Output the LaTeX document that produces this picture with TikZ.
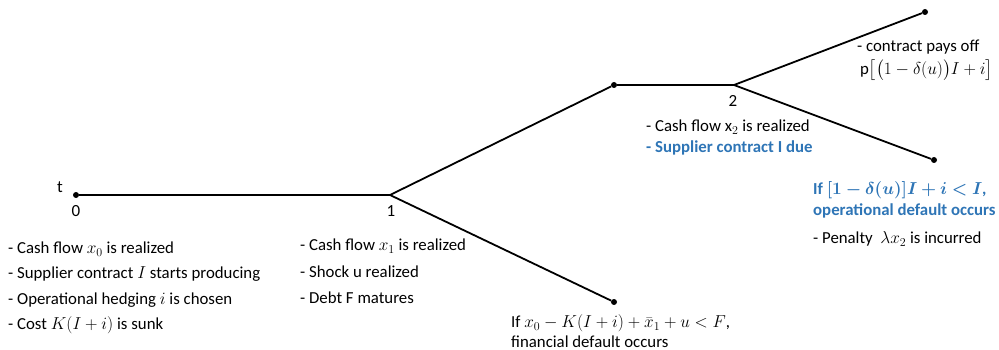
\documentclass[tikz,border=0pt]{standalone}
\usepackage{amsmath}
\usepackage{bm}
\usepackage{fontspec}
\setmainfont{Carlito}
\usetikzlibrary{positioning}
\tikzstyle{dot}=[circle, fill=black, inner sep=0pt, minimum size=6pt]
\tikzstyle{branch}=[line width=1.8pt]
\tikzstyle{note}=[anchor=west, inner sep=0pt, align=left, font=\fontsize{16.8}{20}\selectfont]
\tikzstyle{lbl}=[inner sep=0pt, font=\fontsize{17}{19}\selectfont]
\definecolor{tblue}{RGB}{46,117,182}
\tikzstyle{blue}=[tblue, font=\fontsize{16.8}{21}\selectfont\bfseries]

\begin{document}
\begin{tikzpicture}[x=1pt, y=-1pt]
        \useasboundingbox (0,0) rectangle (999,350);

        % Tree points
        \node at (76, 195) [dot] (t0) {};
        \coordinate (t1) at (390, 195);
        \node at (614, 85) [dot] (up) {};
        \node at (614, 302) [dot] (down) {};
        \coordinate (t2) at (734, 85);
        \node at (925, 12) [dot] (pay) {};
        \node at (934, 160) [dot] (opdef) {};

        % Branches
        \draw [branch] (t0) -- (t1);
        \draw [branch] (t1) -- (up);
        \draw [branch] (t1) -- (down);
        \draw [branch] (up) -- (t2);
        \draw [branch] (t2) -- (pay);
        \draw [branch] (t2) -- (opdef);

        % Dates
        \node at (60, 187) [lbl] (tlabel) {t};
        \node at (76, 211) [lbl] (d0) {0};
        \node at (391, 211) [lbl] (d1) {1};
        \node at (733, 101) [lbl] (d2) {2};

        % Date 0
        \node at (8, 249) [note] (a1) {- Cash flow $x_0$ is realized};
        \node at (8, 274) [note] (a2) {- Supplier contract $I$ starts producing};
        \node at (8, 300) [note] (a3) {- Operational hedging $i$ is chosen};
        \node at (8, 325) [note] (a4) {- Cost $K(I+i)$ is sunk};

        % Date 1
        \node at (300, 246) [note] (b1) {- Cash flow $x_1$ is realized};
        \node at (300, 272) [note] (b2) {- Shock $\mathrm{u}$ realized};
        \node at (300, 298) [note] (b3) {- Debt $\mathrm{F}$ matures};

        % Financial default
        \node at (511, 331) [note] (fin) {If $x_0-K(I+i)+\bar{x}_1+u<F$,\\financial default occurs};

        % Date 2
        \node at (646, 127) [note] (c1) {- Cash flow $\mathrm{x}_2$ is realized};
        \node at (646, 148) [note, blue] (c2) {- Supplier contract I due};

        % Contract pays off
        \node at (857, 60) [note, font=\fontsize{16.8}{25}\selectfont] (pays) {- contract pays off\\[-2pt]
          \,$\mathrm{p}\big[\big(1-\delta(u)\big)I+i\big]$};

        % Operational default
        \node at (813, 200) [note, blue] (opd) {If $\bm{[1-\delta(u)]I+i<I}$,\\operational default occurs};
        \node at (813, 239) [note] (pen) {- Penalty \ $\lambda x_2$ is incurred};
\end{tikzpicture}
\end{document}
